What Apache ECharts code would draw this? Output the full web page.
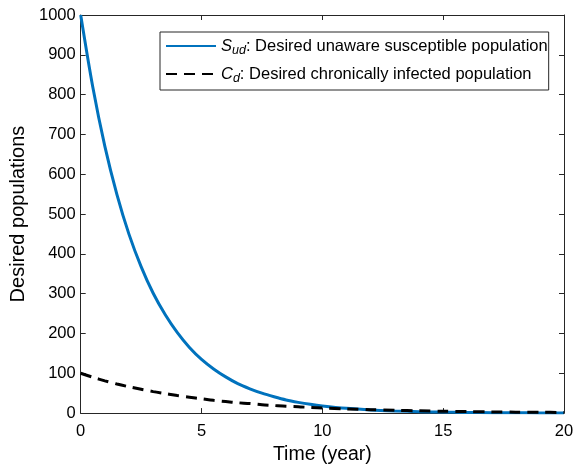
<!DOCTYPE html>
<html>
<head>
<meta charset="utf-8">
<script src="https://cdn.jsdelivr.net/npm/echarts@6/dist/echarts.min.js"></script>
<style>
  html, body { margin: 0; padding: 0; background: #fff; }
  #chart { width: 585px; height: 470px; }
</style>
</head>
<body>
<div id="chart"></div>
<script>
// time (years) at which the curves were read
var timeValues = [0, 0.5, 1, 1.5, 2, 2.5, 3, 3.5, 4, 4.5, 5, 5.5, 6, 6.5, 7, 7.5, 8, 8.5, 9, 9.5, 10,
  11, 12, 13, 14, 15, 16, 17, 18, 19, 20];
// S_ud: desired unaware susceptible population
var suValues = [1000, 819, 670, 549, 449, 368, 301, 247, 202, 165, 135, 111, 91, 74, 61, 50, 41, 33, 27, 22, 18,
  12, 8, 5.5, 3.7, 2.5, 1.7, 1.1, 0.7, 0.5, 0.3];
// C_d: desired chronically infected population
var cdValues = [100, 90, 81, 73, 66, 60, 54, 49, 44, 40, 36, 32, 29, 26, 24, 21, 19, 17, 16, 14, 13,
  10.5, 8.5, 7, 5.7, 4.6, 3.7, 3, 2.4, 2, 1.6];
var xTicks = [0, 5, 10, 15, 20];
var yTicks = [0, 100, 200, 300, 400, 500, 600, 700, 800, 900, 1000];

function pairs(vals) {
  return timeValues.map(function (t, i) { return [t, vals[i]]; });
}

var axisColor = '#262626';
var font = 'Liberation Sans, Arial, sans-serif';

// plain box axis (top / right) with inward ticks, no labels
function boxAxis(extra) {
  return Object.assign({
    type: 'value',
    axisLine: { show: true, onZero: false, lineStyle: { color: axisColor } },
    axisTick: { show: true, inside: true, length: 5, lineStyle: { color: axisColor } },
    axisLabel: { show: false },
    splitLine: { show: false }
  }, extra);
}

var myChart = echarts.init(document.getElementById('chart'));
myChart.setOption({
  animation: false,
  grid: { left: 80.7, right: 21, top: 15, bottom: 56, containLabel: false },
  legend: {
    orient: 'vertical',
    left: 160,
    top: 32,
    padding: [3, 1, 5, 5],
    itemGap: 6,
    itemWidth: 50,
    itemHeight: 14,
    borderColor: axisColor,
    borderWidth: 1,
    backgroundColor: '#fff',
    itemStyle: { opacity: 0 },
    data: ['S', 'C'],
    formatter: function (name) {
      if (name === 'S') return '{i|S}{sub|ud}{t|: Desired unaware susceptible population}';
      return '{i|C}{sub|d}{t|: Desired chronically infected population}';
    },
    textStyle: {
      color: '#000',
      fontFamily: font,
      fontSize: 16.5,
      rich: {
        i: { fontStyle: 'italic', fontSize: 16.5, lineHeight: 22, fontFamily: font, color: '#000' },
        sub: { fontStyle: 'italic', fontSize: 12.5, lineHeight: 22, fontFamily: font, color: '#000', verticalAlign: 'bottom', padding: [9, 0, 0, 0] },
        t: { fontSize: 16.5, lineHeight: 22, fontFamily: font, color: '#000' }
      }
    }
  },
  xAxis: [{
    type: 'value', min: 0, max: 20, interval: 5,
    name: 'Time (year)', nameLocation: 'middle', nameGap: 28,
    nameTextStyle: { color: '#000', fontSize: 19.5, fontFamily: font },
    axisLine: { onZero: false, lineStyle: { color: axisColor } },
    axisTick: { inside: true, length: 5, lineStyle: { color: axisColor } },
    axisLabel: { color: '#000', fontSize: 16.5, fontFamily: font, margin: 10,
      formatter: function (v) { return xTicks.indexOf(v) >= 0 ? String(v) : ''; } },
    splitLine: { show: false }
  }, boxAxis({ min: 0, max: 20, interval: 5, position: 'top' })],
  yAxis: [{
    type: 'value', min: 0, max: 1000, interval: 100,
    name: 'Desired populations', nameLocation: 'middle', nameGap: 47,
    nameTextStyle: { color: '#000', fontSize: 20, fontFamily: font },
    axisLine: { show: true, onZero: false, lineStyle: { color: axisColor } },
    axisTick: { inside: true, length: 5, lineStyle: { color: axisColor } },
    axisLabel: { color: '#000', fontSize: 16.5, fontFamily: font, margin: 5,
      formatter: function (v) { return yTicks.indexOf(v) >= 0 ? String(v) : ''; } },
    splitLine: { show: false }
  }, boxAxis({ min: 0, max: 1000, interval: 100, position: 'right' })],
  series: [{
    name: 'S',
    type: 'line',
    data: pairs(suValues),
    smooth: 0.3,
    symbol: 'none',
    lineStyle: { color: '#0072BD', width: 3 },
    itemStyle: { color: '#0072BD' },
    z: 2
  }, {
    name: 'C',
    type: 'line',
    data: pairs(cdValues),
    smooth: 0.3,
    symbol: 'none',
    lineStyle: { color: '#000', width: 3, type: [11, 7] },
    itemStyle: { color: '#000' },
    z: 3
  }]
});

window.addEventListener('resize', function () {
  myChart.resize();
});
</script>
</body>
</html>
